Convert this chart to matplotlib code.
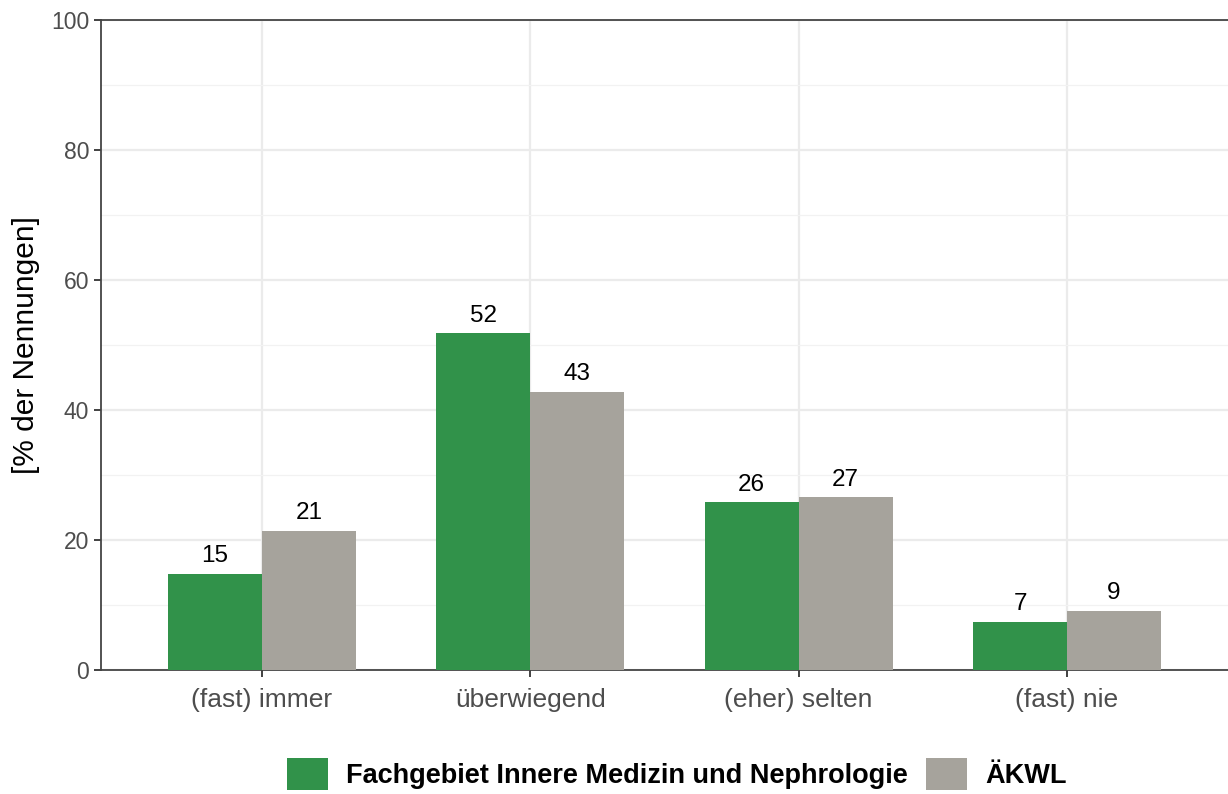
import matplotlib.pyplot as plt
import numpy as np
from matplotlib.ticker import MultipleLocator

plt.rcParams["font.family"] = ["Liberation Sans", "DejaVu Sans"]

categories = ["(fast) immer", "überwiegend", "(eher) selten", "(fast) nie"]
series_names = ["Fachgebiet Innere Medizin und Nephrologie", "ÄKWL"]
fach_values = [14.8, 51.8, 25.8, 7.4]
aekwl_values = [21.4, 42.8, 26.6, 9.1]
fach_labels = ["15", "52", "26", "7"]
aekwl_labels = ["21", "43", "27", "9"]

GREEN = "#31924a"
GRAY = "#a6a39c"
BAR_W = 0.35


def main():

    fig = plt.figure(figsize=(12.28, 7.94), dpi=100)
    ax = fig.add_axes([101 / 1228, 1 - 670 / 794, 1 - 101 / 1228, (670 - 20) / 794])

    x = np.arange(1, len(categories) + 1)

    ax.bar(x - BAR_W / 2, fach_values, BAR_W, color=GREEN,
           label=series_names[0], zorder=3)
    ax.bar(x + BAR_W / 2, aekwl_values, BAR_W, color=GRAY,
           label=series_names[1], zorder=3)

    for xi, v, t in zip(x, fach_values, fach_labels):
        ax.text(xi - BAR_W / 2, v + 1.0, t, ha="center", va="bottom",
                fontsize=17.5, color="black", zorder=4)
    for xi, v, t in zip(x, aekwl_values, aekwl_labels):
        ax.text(xi + BAR_W / 2, v + 1.0, t, ha="center", va="bottom",
                fontsize=17.5, color="black", zorder=4)

    ax.set_xlim(0.4, 4.6)
    ax.set_ylim(0, 100)
    ax.set_xticks(x)
    ax.set_xticklabels(categories)
    ax.yaxis.set_major_locator(MultipleLocator(20))
    ax.yaxis.set_minor_locator(MultipleLocator(10))

    ax.grid(which="major", color="#ebebeb", linewidth=1.6, zorder=0)
    ax.grid(which="minor", axis="y", color="#f2f2f2", linewidth=0.9, zorder=0)
    ax.set_axisbelow(True)

    for side in ["left", "bottom", "top"]:
        ax.spines[side].set_color("#444444")
        ax.spines[side].set_linewidth(1.3)
    ax.spines["right"].set_visible(False)

    ax.tick_params(axis="both", which="major", labelcolor="#4d4d4d",
                   color="#333333", length=5, width=1.3)
    ax.tick_params(axis="y", which="major", labelsize=16.5)
    ax.tick_params(axis="x", which="major", labelsize=19, pad=8)
    ax.tick_params(axis="y", which="minor", length=0)

    ax.set_ylabel("[% der Nennungen]", fontsize=21.5, color="black", labelpad=8)

    fig.legend(loc="center", bbox_to_anchor=(0.551, 1 - 774 / 794),
               ncol=2, frameon=False, handlelength=1.52, handleheight=1.45,
               columnspacing=0.67, handletextpad=0.67,
               prop={"size": 19.5, "weight": "bold"})

    plt.savefig("out.png", dpi=100)
    plt.close()


if __name__ == "__main__":
    main()
